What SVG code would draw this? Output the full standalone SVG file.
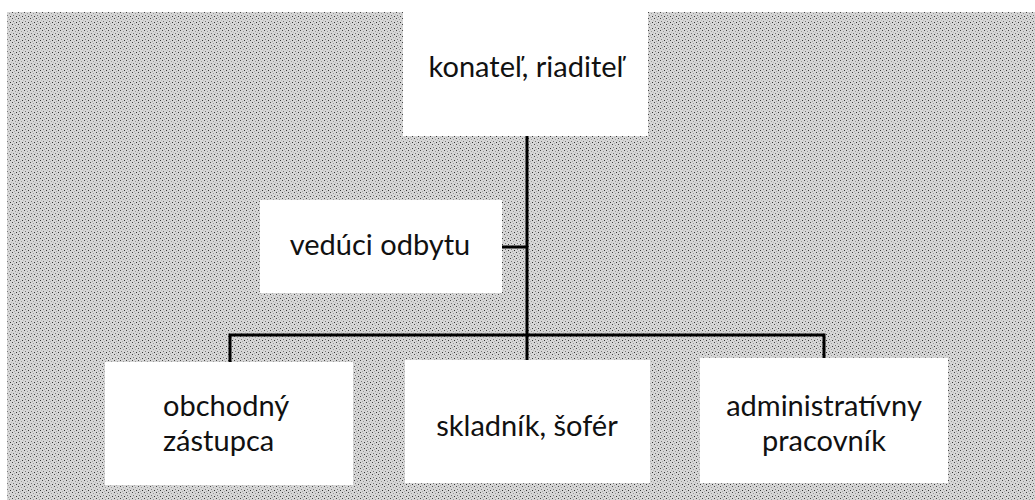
<svg xmlns="http://www.w3.org/2000/svg" width="1035" height="500" viewBox="0 0 1035 500">
<defs>
<pattern id="scan" width="6" height="6" patternUnits="userSpaceOnUse">
<rect width="6" height="6" fill="#d6d6d6"/>
<rect x="0" y="0" width="1" height="1" fill="#444"/>
<rect x="3" y="1" width="1" height="1" fill="#999"/>
<rect x="1" y="3" width="1" height="1" fill="#777"/>
<rect x="4" y="4" width="1" height="1" fill="#333"/>
<rect x="2" y="5" width="1" height="1" fill="#aaa"/>
<rect x="5" y="2" width="1" height="1" fill="#bbb"/>
</pattern>
<style>
.box{fill:#ffffff;stroke:none}
.lbl{font-family:Lato,"Open Sans","Liberation Sans",sans-serif;font-size:29px;fill:#111}
.ln{stroke:#000;stroke-width:3;fill:none}
</style>
</defs>
<rect width="1035" height="500" fill="#ffffff"/>
<rect x="7" y="12" width="1028" height="488" fill="url(#scan)"/>
<g id="connectors">
<line class="ln" x1="527" y1="136" x2="527" y2="360"/>
<line class="ln" x1="502" y1="247" x2="527" y2="247"/>
<polyline class="ln" points="230,362 230,335 824,335 824,358"/>
</g>
<g id="n_konatel">
<rect class="box" x="403" y="0" width="245" height="136"/>
<text class="lbl" x="526" y="77" text-anchor="middle">konateľ, riaditeľ</text>
</g>
<g id="n_veduci">
<rect class="box" x="260" y="200" width="242" height="93"/>
<text class="lbl" x="380" y="255" text-anchor="middle">vedúci odbytu</text>
</g>
<g id="n_obchodny">
<rect class="box" x="105" y="362" width="248" height="123"/>
<text class="lbl" x="163" y="416">obchodný</text>
<text class="lbl" x="163" y="451">zástupca</text>
</g>
<g id="n_skladnik">
<rect class="box" x="405" y="360" width="245" height="123"/>
<text class="lbl" x="527" y="436" text-anchor="middle">skladník, šofér</text>
</g>
<g id="n_admin">
<rect class="box" x="700" y="358" width="248" height="125"/>
<text class="lbl" x="824" y="416" text-anchor="middle">administratívny</text>
<text class="lbl" x="824" y="451" text-anchor="middle">pracovník</text>
</g>
</svg>
